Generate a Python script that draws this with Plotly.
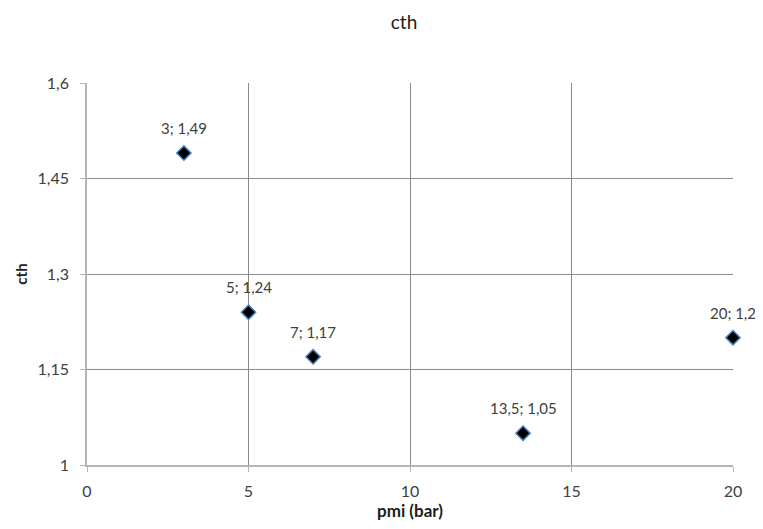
import plotly.graph_objects as go

pmi = [3, 5, 7, 13.5, 20]
cth = [1.49, 1.24, 1.17, 1.05, 1.2]
x_ticks = [0, 5, 10, 15, 20]
y_ticks = [1, 1.15, 1.3, 1.45, 1.6]

def fmt(v):
    return ("%g" % v).replace(".", ",")

labels = [f"{fmt(a)}; {fmt(b)}" for a, b in zip(pmi, cth)]

font = "Lato, 'Open Sans', sans-serif"
grid = "#8a8a8a"
axis_c = "#b4b4b4"
txt = "#404040"

W, H = 755, 521  # page body has an 8px margin

fig = go.Figure(go.Scatter(
    x=pmi, y=cth, mode="markers",
    marker=dict(symbol="diamond", size=11, color="black",
                line=dict(color="#4a7ebb", width=1.5)),
    cliponaxis=False,
))

for a, b, t in zip(pmi, cth, labels):
    fig.add_annotation(x=a, y=b, text=t, showarrow=False, xanchor="center",
                       yanchor="bottom", yshift=14,
                       font=dict(family=font, size=15, color=txt))

fig.update_layout(
    width=W, height=H,
    paper_bgcolor="white", plot_bgcolor="white",
    margin=dict(l=79, r=30, t=75, b=64),
    separators=",.",
    showlegend=False,
    title=dict(text="cth", x=396 / W, xanchor="center", xref="container",
               y=1 - 14 / H, yref="container", yanchor="middle",
               font=dict(family=font, size=19, color="#202020")),
    font=dict(family=font, color=txt),
)
fig.update_xaxes(
    range=[0, 20], tickvals=x_ticks, ticktext=[fmt(v) for v in x_ticks],
    showgrid=True, gridcolor=grid, gridwidth=1,
    showline=True, linecolor=axis_c, linewidth=1.5,
    ticks="outside", ticklen=5, tickcolor=axis_c,
    tickfont=dict(family=font, size=16, color=txt), ticklabelstandoff=6,
    zeroline=False, automargin=False,
    title=dict(text="<b>pmi (bar)</b>", font=dict(family=font, size=17, color="#202020"), standoff=4),
)
fig.update_yaxes(
    range=[1, 1.6], tickvals=y_ticks, ticktext=[fmt(v) for v in y_ticks],
    showgrid=True, gridcolor=grid, gridwidth=1,
    showline=True, linecolor=axis_c, linewidth=1.5,
    ticks="outside", ticklen=5, tickcolor=axis_c,
    tickfont=dict(family=font, size=16, color=txt), ticklabelstandoff=8,
    zeroline=False, automargin=False,
    title=dict(text="<b>cth</b>", font=dict(family=font, size=15, color="#202020"), standoff=6),
)

fig.write_html("out.html")
